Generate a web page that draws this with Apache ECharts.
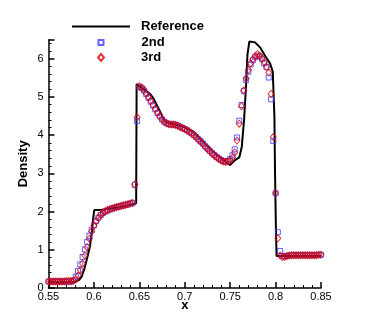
<!DOCTYPE html>
<html>
<head>
<meta charset="UTF-8">
<title>Density</title>
<script src="https://cdn.jsdelivr.net/npm/echarts@6/dist/echarts.min.js"></script>
<style>
  html, body { margin: 0; padding: 0; background: #fff; }
  #main { width: 366px; height: 325px; }
</style>
</head>
<body>
<div id="main"></div>
<script>
// x positions of the scheme markers: 0.55 .. 0.85 step 0.0025
var xStart = 0.55, xStep = 0.0025;

// 2nd order scheme (blue squares)
var second = [
  0.17,0.17,0.17,0.17,0.17,0.17,0.17,0.17,0.17,0.17,
  0.17,0.20,0.30,0.45,0.62,0.81,1.01,1.20,1.37,1.52,
  1.64,1.75,1.84,1.91,1.96,2.00,2.03,2.06,2.08,2.10,
  2.12,2.13,2.15,2.16,2.18,2.19,2.21,2.22,2.70,4.37,
  5.26,5.24,5.17,5.08,4.98,4.88,4.78,4.68,4.58,4.49,
  4.41,4.35,4.31,4.29,4.28,4.28,4.27,4.25,4.22,4.19,
  4.16,4.13,4.09,4.05,4.00,3.95,3.89,3.84,3.78,3.71,
  3.65,3.59,3.53,3.48,3.43,3.39,3.35,3.32,3.31,3.33,
  3.38,3.47,3.63,3.94,4.38,4.79,5.16,5.44,5.66,5.85,
  5.96,6.04,6.08,6.06,5.99,5.88,5.78,5.51,4.94,3.85,
  2.48,1.46,0.97,0.84,0.83,0.84,0.85,0.86,0.86,0.86,
  0.86,0.86,0.86,0.86,0.86,0.86,0.86,0.86,0.86,0.87,
  0.87
];

// 3rd order scheme (red diamonds)
var third = [
  0.17,0.17,0.17,0.17,0.17,0.17,0.17,0.17,0.18,0.18,
  0.18,0.19,0.23,0.33,0.47,0.64,0.85,1.07,1.29,1.48,
  1.63,1.75,1.84,1.92,1.97,2.01,2.04,2.06,2.08,2.10,
  2.12,2.13,2.15,2.16,2.18,2.19,2.21,2.23,2.71,4.47,
  5.28,5.25,5.19,5.10,5.00,4.90,4.79,4.69,4.59,4.50,
  4.42,4.35,4.31,4.29,4.28,4.28,4.27,4.25,4.22,4.19,
  4.16,4.13,4.09,4.05,4.00,3.95,3.89,3.83,3.77,3.70,
  3.64,3.58,3.52,3.47,3.42,3.38,3.34,3.31,3.30,3.31,
  3.34,3.41,3.55,3.86,4.30,4.76,5.17,5.49,5.71,5.88,
  5.99,6.07,6.12,6.08,6.01,5.91,5.79,5.64,5.08,3.95,
  2.48,1.30,0.85,0.81,0.82,0.84,0.85,0.86,0.86,0.86,
  0.86,0.86,0.86,0.86,0.86,0.86,0.86,0.86,0.86,0.87,
  0.87
];

// reference solution (black line)
var refX = [0.55,0.575,0.58,0.584,0.5866,0.5895,0.5927,0.5957,0.5979,0.5993,
  0.6004,0.6086,0.612,0.62,0.63,0.64,0.6465,0.647,0.6508,0.6563,
  0.6618,0.6654,0.6692,0.6728,0.6764,0.6802,0.6874,0.6985,0.7095,0.7205,
  0.7315,0.7389,0.7463,0.7499,0.7554,0.7601,0.7628,0.7653,0.7675,0.769,
  0.7711,0.7727,0.7774,0.7829,0.7884,0.7939,0.7969,0.7987,0.7994,0.8004,
  0.8011,0.85];
var refY = [0.15,0.15,0.17,0.22,0.30,0.50,0.80,1.10,1.50,1.85,
  2.04,2.04,2.06,2.09,2.13,2.18,2.22,5.34,5.27,5.18,
  5.08,4.97,4.79,4.62,4.44,4.33,4.29,4.22,4.09,3.83,
  3.57,3.42,3.28,3.22,3.35,3.42,3.70,4.40,5.30,6.10,
  6.45,6.48,6.43,6.30,6.08,5.88,5.66,4.50,3.00,1.50,
  0.84,0.84];

var xTicks = ['0.55','0.6','0.65','0.7','0.75','0.8','0.85'];

function pairs(vals){
  var out = [];
  for (var i = 0; i < vals.length; i++) {
    out.push([+(xStart + i * xStep).toFixed(4), vals[i]]);
  }
  return out;
}
var refData = [];
for (var k = 0; k < refX.length; k++) refData.push([refX[k], refY[k]]);

var font = 'Liberation Sans, Arial, sans-serif';
var legendText = { fontFamily: font, fontWeight: 'bold', fontSize: 13, color: '#000' };
var myChart = echarts.init(document.getElementById('main'));
var option = {
  animation: false,
  grid: { left: 48.5, right: 45, top: 39.7, bottom: 37 },
  legend: [
    {
      data: [{ name: 'Reference', icon: 'rect' }], left: 72, top: 20, padding: 0,
      itemWidth: 58, itemHeight: 2,
      itemStyle: { color: '#000', borderWidth: 0 },
      textStyle: Object.assign({ padding: [0, 0, 0, 6] }, legendText)
    },
    {
      data: [{ name: '2nd', icon: 'rect' }], left: 97.5, top: 36, padding: 0,
      itemWidth: 5, itemHeight: 5,
      textStyle: Object.assign({ padding: [0, 0, 0, 33] }, legendText)
    },
    {
      data: [{ name: '3rd', icon: 'diamond' }], left: 97, top: 51, padding: 0,
      itemWidth: 6, itemHeight: 7,
      textStyle: Object.assign({ padding: [0, 0, 0, 32] }, legendText)
    }
  ],
  xAxis: {
    type: 'value', min: 0.55, max: 0.85, interval: 0.05,
    name: 'x', nameLocation: 'middle', nameGap: 11, nameMoveOverlap: false,
    nameTextStyle: { fontFamily: font, fontWeight: 'bold', fontSize: 13, color: '#000' },
    axisLine: { lineStyle: { color: '#000', width: 1.5 } },
    axisTick: { inside: true, length: 6, lineStyle: { color: '#000', width: 1.5 } },
    minorTick: { show: true, splitNumber: 5, length: 3, lineStyle: { color: '#000' } },
    splitLine: { show: false },
    axisLabel: {
      margin: 3, fontFamily: font, fontSize: 11, color: '#000',
      formatter: function (v) { return xTicks[Math.round((v - 0.55) / 0.05)]; }
    }
  },
  yAxis: {
    type: 'value', min: 0, max: 6.5, interval: 1,
    name: 'Density', nameLocation: 'middle', nameGap: 19, nameMoveOverlap: false,
    nameTextStyle: { fontFamily: font, fontWeight: 'bold', fontSize: 13, color: '#000' },
    axisLine: { lineStyle: { color: '#000', width: 1.5 } },
    axisTick: { inside: true, length: 6, lineStyle: { color: '#000', width: 1.5 } },
    minorTick: { show: true, splitNumber: 5, length: 3, lineStyle: { color: '#000' } },
    splitLine: { show: false },
    axisLabel: { margin: 5, showMaxLabel: false, fontFamily: font, fontSize: 11, color: '#000' }
  },
  series: [
    {
      name: 'Reference', type: 'line', data: refData, symbol: 'none',
      lineStyle: { color: '#000', width: 2 }, itemStyle: { color: '#000' }, z: 1
    },
    {
      name: '2nd', type: 'scatter', data: pairs(second),
      symbol: 'rect', symbolSize: 5,
      itemStyle: { color: 'transparent', borderColor: '#3a3aff', borderWidth: 1 }, z: 2
    },
    {
      name: '3rd', type: 'scatter', data: pairs(third),
      symbol: 'diamond', symbolSize: [6, 7],
      itemStyle: { color: 'transparent', borderColor: '#e00000', borderWidth: 1 }, z: 3
    }
  ]
};
myChart.setOption(option);
</script>
</body>
</html>
